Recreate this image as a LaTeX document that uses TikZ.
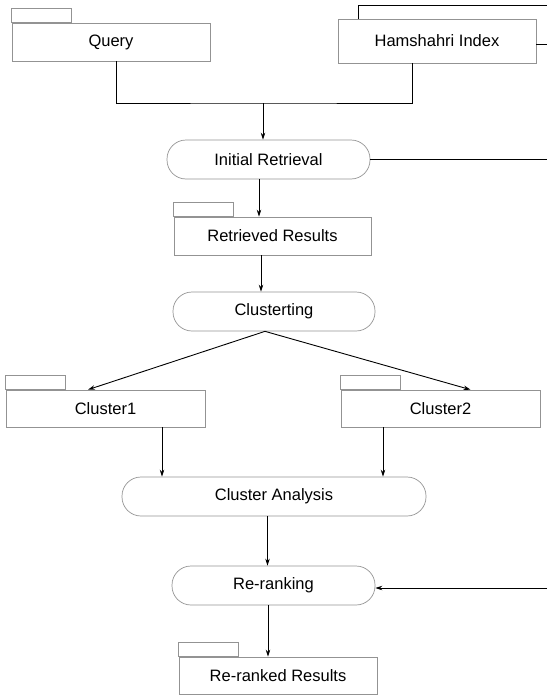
\documentclass[tikz,border=0pt]{standalone}
\usepackage{fontspec}
\setmainfont{Liberation Sans}
\usetikzlibrary{positioning,calc,arrows.meta}

\tikzset{
  box/.style={draw=gray!85, line width=0.7pt, inner sep=0pt,
    minimum width=198pt, minimum height=38pt,
    font=\fontsize{16.5}{19}\selectfont},
  proc/.style={box, rounded corners=19pt, minimum width=203pt, minimum height=39pt},
  tab/.style={draw=gray!85, line width=0.7pt},
  line/.style={draw=black, line width=0.9pt},
  arr/.style={line, -{Stealth[length=7pt,width=4.5pt]}}
}

\begin{document}
\begin{tikzpicture}[x=1pt,y=-1pt]
  \useasboundingbox (0,0) rectangle (547,696);

  % inputs
  \node[box] (query) at (111,42) {Query};
  \node[box, minimum height=44pt] (index) at (437,41) {Hamshahri Index};
  \draw[tab] (query.north west) rectangle ++(60,-14);
  \draw[line] ([xshift=21pt]index.north west) |- (547,5);

  % retrieval
  \node[proc] (initial) at (268.5,159.5) {Initial Retrieval};
  \node[box, minimum width=197pt] (retrieved) at (272.5,236) {Retrieved Results};
  \draw[tab] (retrieved.north west) rectangle ++(60,-14);

  % clustering
  \node[proc, minimum width=202pt] (clustering) at (274,311.5) {Clusterting};
  \node[box, minimum width=199pt, minimum height=37pt] (clusterA) at (105.5,408.5) {Cluster1};
  \node[box, minimum width=199pt, minimum height=37pt] (clusterB) at (440.5,408.5) {Cluster2};
  \draw[tab] (clusterA.north west) rectangle ++(60,-14);
  \draw[tab] (clusterB.north west) rectangle ++(60,-14);

  % analysis and re-ranking
  \node[proc, minimum width=304pt] (analysis) at (274,496.5) {Cluster Analysis};
  \node[proc] (reranking) at (273.5,585.5) {Re-ranking};
  \node[box, minimum height=37pt] (reranked) at (278,675.5) {Re-ranked Results};
  \draw[tab] (reranked.north west) rectangle ++(60,-14);

  % free ends on the right edge
  \coordinate (idxR) at (547,44);
  \coordinate (irR) at (547,159.5);
  \coordinate (rrR) at (547,588);
  \coordinate (bus) at (263,103);

  % connectors
  \draw[line] ([xshift=5pt]query.south) |- (bus) -| ([xshift=-25pt]index.south);
  \draw[arr] (bus) -- (bus |- initial.north);
  \draw[line] (idxR -| index.east) -- (idxR);
  \draw[line] (initial.east) -- (irR);
  \draw[arr] ([xshift=-9.5pt]initial.south) -- ([xshift=-9.5pt]initial.south |- retrieved.north);
  \draw[arr] ([xshift=-11.5pt]retrieved.south) -- ([xshift=-11.5pt]retrieved.south |- clustering.north);
  \draw[arr] ([xshift=-9pt]clustering.south) -- ([xshift=-17.5pt]clusterA.north);
  \draw[arr] ([xshift=-9pt]clustering.south) -- ([xshift=30pt]clusterB.north);
  \draw[arr] ([xshift=56.5pt]clusterA.south) -- ([xshift=56.5pt]clusterA.south |- analysis.north);
  \draw[arr] ([xshift=-57.5pt]clusterB.south) -- ([xshift=-57.5pt]clusterB.south |- analysis.north);
  \draw[arr] ([xshift=-6.5pt]analysis.south) -- ([xshift=-6.5pt]analysis.south |- reranking.north);
  \draw[arr] ([xshift=-5.5pt]reranking.south) -- ([xshift=-5.5pt]reranking.south |- reranked.north);
  \draw[arr] (rrR) -- (rrR -| reranking.east);
\end{tikzpicture}
\end{document}
